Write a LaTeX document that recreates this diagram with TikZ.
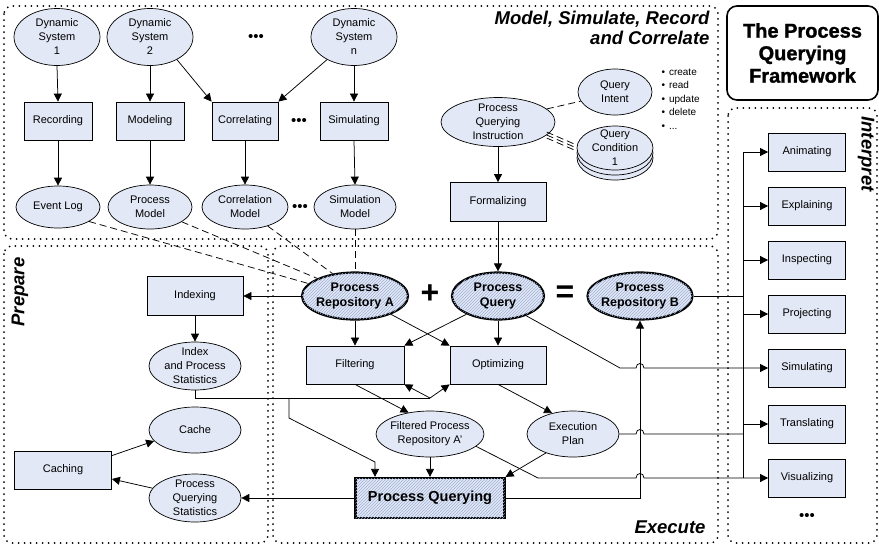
\documentclass[tikz,border=0pt]{standalone}
\usepackage{fontspec}
\setmainfont{Liberation Sans}
\newfontfamily\headfont[BoldFeatures={FakeBold=1.3}]{Liberation Sans}
\usetikzlibrary{shapes.geometric,arrows.meta,patterns,calc}
\definecolor{nodefill}{RGB}{226,232,245}
\definecolor{hatchline}{RGB}{160,178,212}
\begin{document}
\begin{tikzpicture}[x=1pt,y=-1pt,
  every node/.style={font=\fontsize{11}{14}\selectfont},
  ell/.style={ellipse, draw, line width=0.7pt, fill=nodefill, align=center, inner sep=-6pt},
  proc/.style={rectangle, draw, line width=0.8pt, fill=nodefill, align=center, minimum height=38pt, inner sep=0pt},
  keyell/.style={ellipse, draw, line width=2.2pt, fill=nodefill,
    postaction={pattern=north east lines, pattern color=hatchline},
    align=center, inner sep=-6pt, font=\bfseries\fontsize{12.5}{15}\selectfont},
  arr/.style={-{Triangle[length=8pt,width=8pt]}, line width=0.75pt},
  link/.style={line width=0.75pt},
  dashlink/.style={line width=0.75pt, dash pattern=on 7pt off 4pt},
  region/.style={line width=2pt, dash pattern=on 0pt off 6pt, line cap=round, rounded corners=8pt},
  dotrow/.style={font=\fontsize{15}{15}\selectfont},
  zone/.style={font=\bfseries\itshape\fontsize{18.5}{20}\selectfont},
  sym/.style={font=\bfseries\fontsize{32}{32}\selectfont},
]
\useasboundingbox (0,0) rectangle (879,547);
\fill[white] (0,0) rectangle (879,547);

% ---------- dotted zones ----------
\draw[region] (4,6) rectangle (718,239);
\draw[region] (4,246) rectangle (268,543);
\draw[region] (273,246) rectangle (718,543);
\draw[region] (728,108) rectangle (877,543);

% ---------- title ----------
\node[draw, line width=1.6pt, rounded corners=10pt, minimum width=151pt, minimum height=94pt,
      align=center, font=\headfont\bfseries\fontsize{20}{22.5}\selectfont] (title) at (802.5,53)
      {The Process\\Querying\\Framework};

% ---------- zone labels ----------
\node[zone, align=right, anchor=north east] (lblmodel) at (713,8) {Model, Simulate, Record\\and Correlate};
\node[zone, rotate=90] (lblprep) at (20,292) {Prepare};
\node[zone] (lblexec) at (670,527) {Execute};
\node[zone, rotate=-90] (lblint) at (866,154) {Interpret};

% ---------- model, simulate, record and correlate ----------
\node[ell, minimum width=86pt, minimum height=57pt] (ds1) at (57,37) {Dynamic\\System\\1};
\node[ell, minimum width=86pt, minimum height=57pt] (ds2) at (150,37) {Dynamic\\System\\2};
\node[dotrow] (dotsA) at (256,38) {\textbullet\textbullet\textbullet};
\node[ell, minimum width=86pt, minimum height=57pt] (dsn) at (354,37) {Dynamic\\System\\n};

\node[proc, minimum width=68pt] (rec) at (58,121) {Recording};
\node[proc, minimum width=68pt] (model) at (150,121) {Modeling};
\node[proc, minimum width=66pt] (corr) at (245,121) {Correlating};
\node[dotrow] (dotsB) at (299,122) {\textbullet\textbullet\textbullet};
\node[proc, minimum width=68pt] (simg) at (354,121) {Simulating};

\node[ell, minimum width=84pt, minimum height=42pt] (el) at (58,207) {Event Log};
\node[ell, minimum width=84pt, minimum height=44pt] (pm) at (150,207) {Process\\Model};
\node[ell, minimum width=86pt, minimum height=44pt] (cm) at (245,207) {Correlation\\Model};
\node[dotrow] (dotsC) at (300,208) {\textbullet\textbullet\textbullet};
\node[ell, minimum width=82pt, minimum height=44pt] (sm) at (355,207) {Simulation\\Model};

\node[ell, minimum width=114pt, minimum height=49pt] (pqi) at (498,122) {Process\\Querying\\Instruction};
\node[ell, minimum width=74pt, minimum height=46pt] (qi) at (615,92) {Query\\Intent};
\node[ell, minimum width=76pt, minimum height=44pt] (qcb2) at (615,158) {};
\node[ell, minimum width=76pt, minimum height=44pt] (qcb1) at (615,153) {};
\node[ell, minimum width=76pt, minimum height=44pt] (qc) at (615,148) {Query\\Condition\\1};
\node[anchor=west, align=left, font=\fontsize{10}{13.4}\selectfont] (ops) at (658,99)
  {\textbullet\hspace{4pt}create\\\textbullet\hspace{4pt}read\\\textbullet\hspace{4pt}update\\\textbullet\hspace{4pt}delete\\\textbullet\hspace{4pt}...};
\node[proc, minimum width=96pt, minimum height=39pt] (form) at (498,202) {Formalizing};

% ---------- execute ----------
\node[keyell, minimum width=106pt, minimum height=47pt] (pra) at (355,296) {Process\\Repository A};
\node[sym] (plus) at (430,294) {+};
\node[keyell, minimum width=92pt, minimum height=47pt] (pq) at (498,296) {Process\\Query};
\node[sym] (eq) at (565,294) {=};
\node[keyell, minimum width=105pt, minimum height=47pt] (prb) at (640,296) {Process\\Repository B};

\node[proc, minimum width=98pt] (filt) at (355,365) {Filtering};
\node[proc, minimum width=96pt] (opt) at (498,365) {Optimizing};
\node[ell, minimum width=108pt, minimum height=46pt] (fpr) at (430,434) {Filtered Process\\Repository A'};
\node[ell, minimum width=92pt, minimum height=46pt] (ep) at (573,434) {Execution\\Plan};
\node[rectangle, draw, line width=2.2pt, fill=nodefill,
      postaction={pattern=north east lines, pattern color=hatchline},
      minimum width=149pt, minimum height=40pt,
      font=\bfseries\fontsize{14.5}{16}\selectfont] (pqb) at (430,498) {Process Querying};

% ---------- prepare ----------
\node[proc, minimum width=96pt, minimum height=39pt] (idx) at (195,296) {Indexing};
\node[ell, minimum width=92pt, minimum height=48pt] (ips) at (195,366) {Index\\and Process\\Statistics};
\node[ell, minimum width=92pt, minimum height=46pt] (cache) at (195,430) {Cache};
\node[proc, minimum width=97pt] (caching) at (63,470) {Caching};
\node[ell, minimum width=92pt, minimum height=48pt] (pqs) at (195,498) {Process\\Querying\\Statistics};

% ---------- interpret ----------
\node[proc, minimum width=77pt] (anim) at (807,152) {Animating};
\node[proc, minimum width=77pt] (expl) at (807,206) {Explaining};
\node[proc, minimum width=77pt] (insp) at (807,260) {Inspecting};
\node[proc, minimum width=77pt] (proj) at (807,314) {Projecting};
\node[proc, minimum width=77pt] (simr) at (807,368) {Simulating};
\node[proc, minimum width=77pt] (trans) at (807,424) {Translating};
\node[proc, minimum width=77pt] (vis) at (807,478) {Visualizing};
\node[dotrow] (dotsD) at (807,517) {\textbullet\textbullet\textbullet};

% ---------- routing points ----------
\coordinate (bus) at (743,0);
\coordinate (hop) at (640,0);
\coordinate (J) at (430,398);
\coordinate (br) at (289,398);
\coordinate (br2) at (289,418);
\coordinate (br3) at (375,462);
\coordinate (bendS) at (620,368);
\coordinate (bendF) at (538,478);

% ---------- top connectors ----------
\draw[arr] (ds1.south) -- (rec.north);
\draw[arr] (ds2.south) -- (model.north);
\draw[arr] (ds2.-40) -- (corr.north west);
\draw[arr] (dsn.220) -- (corr.north east);
\draw[arr] (dsn.south) -- (simg.north);
\draw[arr] (rec.south) -- (el.north);
\draw[arr] (model.south) -- (pm.north);
\draw[arr] (corr.south) -- (cm.north);
\draw[arr] (simg.south) -- (sm.north);

\draw[dashlink] (pqi.15) -- (qi.195);
\foreach \s in {-3,0,3}
  \draw[dashlink] ([yshift=\s pt]pqi.-15) -- ([yshift=\s pt]qc.180);
\draw[arr] (pqi.south) -- (form.north);
\draw[arr] (form.south) -- (pq.north);

% ---------- models into the repository ----------
\draw[dashlink] (el.-25) -- (pra.165);
\draw[dashlink] (pm.-25) -- (pra.155);
\draw[dashlink] (cm.-40) -- (pra.135);
\draw[dashlink] (sm.south) -- (pra.north);

% ---------- execute connectors ----------
\draw[arr] (pra.west) -- (idx.east);
\draw[arr] (pra.south) -- (filt.north);
\draw[arr] (pra.-27) -- (opt.north west);
\draw[arr] (pq.210) -- (filt.north east);
\draw[arr] (pq.south) -- (opt.north);
\draw[arr] (filt.south) -- (fpr.135);
\draw[arr] (opt.south) -- (ep.135);
\draw[arr] (fpr.south) -- (pqb.north);
\draw[arr] (ep.215) -- (pqb.north east);
\draw[arr] (pqb.west) -- (pqs.east);
\draw[arr] (pqb.east) -- (hop |- pqb.east) -- (prb.south);

% ---------- prepare connectors ----------
\draw[arr] (idx.south) -- (ips.north);
\draw[link] (ips.south) |- (J);
\draw[arr] (J) -- (filt.south east);
\draw[arr] (J) -- (opt.south west);
\draw[arr] (br) -- (br2) -- (br3) -- (br3 |- pqb.north);
\draw[arr] ([yshift=-5pt]caching.north east) -- (cache.195);
\draw[arr] (pqs.167) -- ([yshift=-9pt]caching.east);

% ---------- interpret bus ----------
\draw[link] (bus |- anim.west) -- (bus |- vis.west);
\draw[link] (prb.east) -- (bus |- prb.east);
\foreach \b in {anim,expl,insp,proj,trans}
  \draw[arr] (bus |- \b.west) -- (\b.west);
\draw[arr] (pq.-35) -- (bendS) -- ($(hop |- bendS)+(-4,0)$)
  .. controls +(0,-6) and +(0,-6) .. ($(hop |- bendS)+(4,0)$) -- (simr.west);
\draw[link] (ep.east) -- ($(hop |- ep.east)+(-4,0)$)
  .. controls +(0,-6) and +(0,-6) .. ($(hop |- ep.east)+(4,0)$) -- (bus |- ep.east);
\draw[arr] (fpr.-15) -- (bendF) -- ($(hop |- bendF)+(-4,0)$)
  .. controls +(0,-6) and +(0,-6) .. ($(hop |- bendF)+(4,0)$) -- (vis.west);
\end{tikzpicture}
\end{document}
